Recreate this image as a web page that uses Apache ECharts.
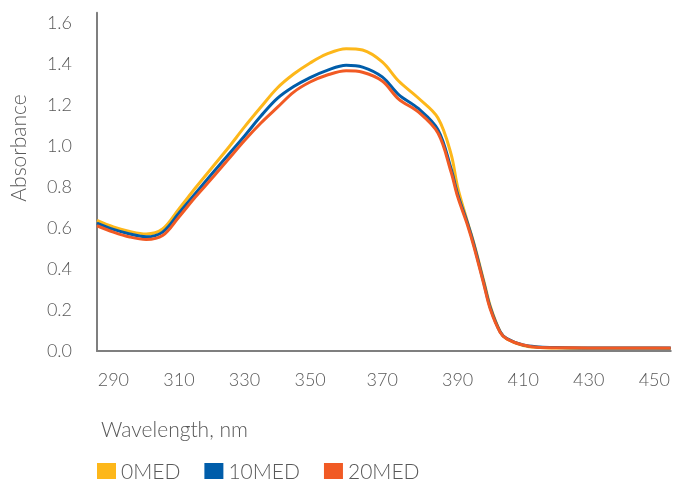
<!DOCTYPE html>
<html>
<head>
<meta charset="utf-8">
<script src="https://cdn.jsdelivr.net/npm/echarts@6/dist/echarts.min.js"></script>
<style>
html,body{margin:0;padding:0;background:#fff;}
#chart{width:673px;height:479px;}
</style>
</head>
<body>
<div id="chart"></div>
<script>
const sampleNm = [285,290,295,300,305,310,315,320,325,330,335,340,345,350,355,360,365,370,375,380,385,388,390,393,395,398,400,403,405,410,415,420,430,440,450,455];
const med0  = [0.637,0.605,0.583,0.571,0.595,0.693,0.795,0.893,0.990,1.093,1.190,1.283,1.351,1.405,1.448,1.475,1.468,1.410,1.317,1.234,1.137,0.960,0.800,0.630,0.524,0.341,0.217,0.093,0.059,0.027,0.017,0.015,0.013,0.013,0.013,0.012];
const med10 = [0.624,0.593,0.571,0.557,0.580,0.673,0.768,0.863,0.956,1.049,1.146,1.232,1.290,1.334,1.368,1.394,1.385,1.337,1.251,1.183,1.080,0.889,0.765,0.624,0.517,0.332,0.210,0.093,0.061,0.029,0.020,0.017,0.015,0.015,0.015,0.015];
const med20 = [0.611,0.580,0.556,0.544,0.563,0.654,0.751,0.841,0.934,1.027,1.112,1.188,1.263,1.312,1.345,1.367,1.360,1.317,1.229,1.166,1.063,0.873,0.753,0.615,0.507,0.324,0.202,0.090,0.059,0.029,0.017,0.016,0.015,0.015,0.015,0.015];
const seriesNames = ['0MED','10MED','20MED'];
const tickLabels = ['290','310','330','350','370','390','410','430','450'];
const yTicks = [0,0.2,0.4,0.6,0.8,1.0,1.2,1.4,1.6];
// instrument readings: 1-nm steps plus extra half-step readings in the peak region
const extraReadings = ['355.5','365.5','375.5','380.5','385.5'];

const categories = [];
for (let w = 285; w <= 455; w++) {
  categories.push(String(w));
  if (extraReadings.indexOf(w + '.5') >= 0) categories.push(w + '.5');
}

const colors = ['#FDB71A','#005DAA','#F15A24'];
const FONT = 'Lato';
const TXT = '#595959';

function pairs(vals){ return sampleNm.map((w,i)=>[String(w), vals[i]]); }

const chart = echarts.init(document.getElementById('chart'), null, {renderer:'canvas'});
chart.setOption({
  animation:false,
  color: colors,
  grid:{left:97,right:0,top:12.75,bottom:128,containLabel:false},
  xAxis:{
    type:'category', data:categories, boundaryGap:false,
    axisLine:{show:true,lineStyle:{color:'#7F7F7F',width:2}},
    axisTick:{show:false},
    splitLine:{show:false},
    axisLabel:{
      interval:(idx,val)=>tickLabels.indexOf(val)>=0,
      color:TXT,fontFamily:FONT,fontWeight:300,fontSize:18,margin:20
    }
  },
  yAxis:{
    type:'value',min:0,max:1.65,interval:0.2,
    axisLine:{show:true,lineStyle:{color:'#7F7F7F',width:2}},
    axisTick:{show:false},
    splitLine:{show:false},
    axisLabel:{
      showMaxLabel:false,
      formatter:v=> yTicks.some(t=>Math.abs(t-v)<1e-6) ? v.toFixed(1) : '',
      color:TXT,fontFamily:FONT,fontWeight:300,fontSize:18,margin:25
    }
  },
  legend:{
    left:97, top:462, padding:0, icon:'rect', itemWidth:19, itemHeight:19, itemGap:24,
    data:seriesNames,
    textStyle:{color:TXT,fontFamily:FONT,fontWeight:300,fontSize:21}
  },
  graphic:[
    {type:'text',left:101,top:420,style:{text:'Wavelength, nm',fill:TXT,font:'300 21px '+FONT}},
    {type:'text',x:19,y:148,rotation:Math.PI/2,style:{text:'Absorbance',fill:TXT,font:'300 21px '+FONT,align:'center',verticalAlign:'middle'}}
  ],
  series:[med0,med10,med20].map((d,i)=>({
    name:seriesNames[i], type:'line', data:pairs(d), smooth:0.35,
    symbol:'none', lineStyle:{width:3,color:colors[i]}, itemStyle:{color:colors[i]}
  }))
});
</script>
</body>
</html>
